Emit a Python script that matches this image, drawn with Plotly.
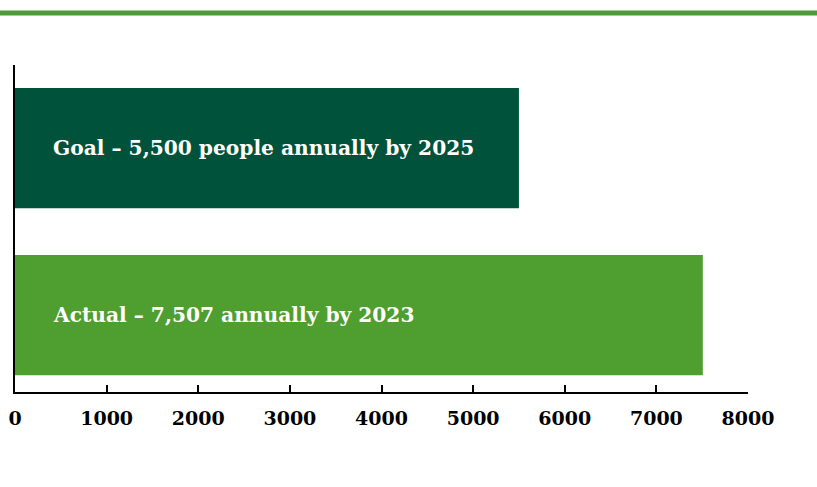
import plotly.graph_objects as go

# Data
categories = ["Actual", "Goal"]
values = [7507, 5500]
bar_labels = ["Actual – 7,507 annually by 2023", "Goal – 5,500 people annually by 2025"]
bar_colors = ["#4f9e30", "#00533a"]
tick_values = [0, 1000, 2000, 3000, 4000, 5000, 6000, 7000, 8000]

FONT = "DejaVu Serif"

fig = go.Figure()
fig.add_trace(go.Bar(
    x=values,
    y=categories,
    orientation="h",
    marker=dict(color=bar_colors, line=dict(width=0)),
    hoverinfo="skip",
))

for cat, label in zip(categories, bar_labels):
    fig.add_annotation(
        x=0, y=cat, xref="x", yref="y",
        text="<b>" + label + "</b>",
        showarrow=False, xanchor="left", yanchor="middle",
        xshift=36,
        font=dict(family=FONT, size=20.2, color="white"),
    )

# Green rule across the top of the page
fig.add_shape(
    type="line", xref="paper", yref="paper",
    x0=-0.05, x1=1.2, y0=1.159, y1=1.159,
    line=dict(color="#4e9a3a", width=5),
)

fig.update_layout(
    width=817, height=487,
    margin=dict(l=15, r=69, t=65, b=95, autoexpand=False),
    paper_bgcolor="white", plot_bgcolor="white",
    bargap=0.28,
    showlegend=False,
    xaxis=dict(
        range=[0, 8000],
        tickvals=tick_values,
        ticktext=[f"<b>{v}</b>" for v in tick_values],
        ticks="inside", ticklen=7, tickcolor="black", tickwidth=1.5,
        showline=True, linecolor="black", linewidth=1.5,
        showgrid=False, zeroline=False, automargin=False,
        tickfont=dict(family=FONT, size=19, color="black"),
        ticklabelstandoff=8,
    ),
    yaxis=dict(
        range=[-0.461, 1.497],
        showticklabels=False, ticks="", automargin=False,
        showline=True, linecolor="black", linewidth=1.5,
        showgrid=False, zeroline=False,
    ),
)

fig.write_html("out.html")
